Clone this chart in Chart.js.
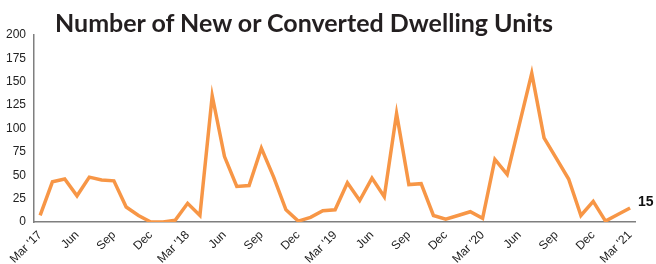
<!DOCTYPE html>
<html>
<head>
<meta charset="utf-8">
<script src="https://cdn.jsdelivr.net/npm/chart.js@4"></script>
<style>
  html, body { margin: 0; padding: 0; background: #fff; }
  #wrap { position: relative; width: 656px; height: 264px; }
  #title {
    position: absolute; left: 55px; top: 7px;
    font: bold 25px Lato, "Open Sans", sans-serif; color: #231f20;
    white-space: nowrap;
  }
</style>
</head>
<body>
<div id="wrap">
  <canvas id="unitsChart" width="656" height="264"></canvas>
  <div id="title">Number of New or Converted Dwelling Units</div>
</div>
<script>
// Monthly counts, Mar '17 .. Mar '21
const months = [
  "Mar '17", 'Apr', 'May', 'Jun', 'Jul', 'Aug', 'Sep', 'Oct', 'Nov', 'Dec', 'Jan', 'Feb',
  "Mar '18", 'Apr', 'May', 'Jun', 'Jul', 'Aug', 'Sep', 'Oct', 'Nov', 'Dec', 'Jan', 'Feb',
  "Mar '19", 'Apr', 'May', 'Jun', 'Jul', 'Aug', 'Sep', 'Oct', 'Nov', 'Dec', 'Jan', 'Feb',
  "Mar '20", 'Apr', 'May', 'Jun', 'Jul', 'Aug', 'Sep', 'Oct', 'Nov', 'Dec', 'Jan', 'Feb',
  "Mar '21"
];
const units = [
  7, 43, 46, 28, 48, 45, 44, 16, 7, 0, 0, 2,
  20, 7, 135, 70, 38, 39, 79, 48, 13, 1, 5, 12,
  13, 42, 23, 47, 27, 116, 40, 41, 7, 3, 7, 11,
  4, 67, 51, 105, 159, 90, 68, 46, 7, 22, 1, 8,
  15
];
// every third month gets a label
const tickMonths = [0, 3, 6, 9, 12, 15, 18, 21, 24, 27, 30, 33, 36, 39, 42, 45, 48];
const yTicks = [0, 25, 50, 75, 100, 125, 150, 175, 200];

const lineColor = '#F79646';
const axisFont = { family: '"Liberation Sans", Arial, sans-serif', size: 12 };

// Label the last point with its value
const lastLabel = {
  id: 'lastLabel',
  afterDatasetsDraw(chart) {
    const meta = chart.getDatasetMeta(0);
    const pt = meta.data[meta.data.length - 1];
    const ctx = chart.ctx;
    ctx.save();
    ctx.font = 'bold 14px "Liberation Sans", Arial, sans-serif';
    ctx.fillStyle = '#111';
    ctx.textBaseline = 'middle';
    ctx.fillText(String(units[units.length - 1]), pt.x + 8, pt.y - 6);
    ctx.restore();
  }
};

new Chart(document.getElementById('unitsChart'), {
  type: 'line',
  data: {
    datasets: [{
      data: units.map((v, i) => ({ x: i, y: v })),
      borderColor: lineColor,
      borderWidth: 3.5,
      pointRadius: 0,
      tension: 0,
      fill: false
    }]
  },
  options: {
    responsive: false,
    animation: false,
    layout: { padding: { top: 35, right: 21, left: 0, bottom: 0 } },
    plugins: { legend: { display: false }, tooltip: { enabled: false } },
    scales: {
      x: {
        type: 'linear',
        min: -0.5,
        max: 48.4,
        grid: { display: false, drawTicks: false },
        border: { display: true, color: '#7f7f7f', width: 1.5 },
        afterBuildTicks: (scale) => { scale.ticks = tickMonths.map(v => ({ value: v })); },
        afterFit: (scale) => { scale.height = 42; },
        ticks: {
          minRotation: 45,
          maxRotation: 45,
          padding: 6,
          color: '#222',
          font: axisFont,
          autoSkip: false,
          callback: (v) => months[v]
        }
      },
      y: {
        min: 0,
        max: 200,
        grid: { display: false, drawTicks: false },
        border: { display: true, color: '#7f7f7f', width: 1.5 },
        afterBuildTicks: (scale) => { scale.ticks = yTicks.map(v => ({ value: v })); },
        afterFit: (scale) => { scale.width = 34; },
        ticks: { padding: 8, color: '#222', font: axisFont }
      }
    }
  },
  plugins: [lastLabel]
});
</script>
</body>
</html>
